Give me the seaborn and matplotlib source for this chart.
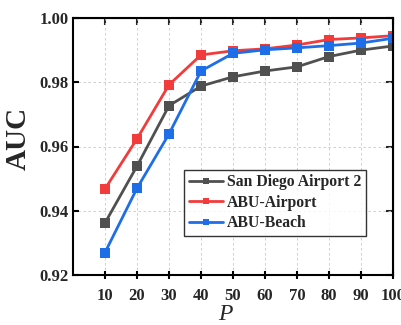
import matplotlib
matplotlib.use('Agg')
import matplotlib.pyplot as plt
import seaborn as sns
import pandas as pd

# data
P = [10, 20, 30, 40, 50, 60, 70, 80, 90, 100]
san_diego = [0.9362, 0.9539, 0.9727, 0.9788, 0.9817, 0.9835, 0.9848, 0.9880, 0.9900, 0.9913]
abu_airport = [0.9468, 0.9624, 0.9792, 0.9885, 0.9898, 0.9904, 0.9916, 0.9933, 0.9938, 0.9945]
abu_beach = [0.9270, 0.9470, 0.9639, 0.9835, 0.9890, 0.9901, 0.9907, 0.9914, 0.9922, 0.9937]
y_ticks = [0.92, 0.94, 0.96, 0.98, 1.00]

series = ["San Diego Airport 2", "ABU-Airport", "ABU-Beach"]
colors = ["#505050", "#F23C3C", "#1E6EE8"]

df = pd.concat([
    pd.DataFrame({"P": P, "AUC": vals, "dataset": name})
    for name, vals in zip(series, [san_diego, abu_airport, abu_beach])
])

sns.set_style("ticks")
plt.rcParams['font.family'] = ['Liberation Serif', 'DejaVu Serif']
plt.rcParams['font.weight'] = 'bold'

fig = plt.figure(figsize=(4.02, 3.25), dpi=100)
ax = fig.add_axes([73 / 402, 50 / 325, 320 / 402, 257 / 325])

sns.lineplot(data=df, x="P", y="AUC", hue="dataset", hue_order=series,
             palette=colors, marker='s', markersize=6.5, markeredgewidth=0,
             linewidth=2, ax=ax)

ax.set_xlim(0, 100)
ax.set_ylim(0.92, 1.00)
ax.set_xticks(P)
ax.set_yticks(y_ticks)
ax.set_yticklabels([f"{v:.2f}" for v in y_ticks])
ax.grid(True, linestyle=(0, (3, 3)), color='#c8c8c8', linewidth=0.6)

for s in ax.spines.values():
    s.set_linewidth(1.5)
    s.set_color('black')

ax.tick_params(axis='x', labelsize=12, width=1.5, length=6, direction='inout',
               pad=6, color='black')
ax.tick_params(axis='y', labelsize=12, width=1.5, length=4, direction='in',
               pad=3, color='black')
for lab in ax.get_xticklabels() + ax.get_yticklabels():
    lab.set_fontweight('bold')

# mirrored ticks on top/right pointing inward
top = ax.secondary_xaxis('top')
top.set_xticks(P)
top.tick_params(direction='in', length=5, width=1.5, labeltop=False)
right = ax.secondary_yaxis('right')
right.set_yticks(y_ticks)
right.tick_params(direction='in', length=5, width=1.5, labelright=False)

ax.set_xlabel("P", fontsize=17, fontstyle='italic', fontweight='normal')
ax.xaxis.set_label_coords(0.475, -0.113, transform=ax.transAxes)
ax.xaxis.label.set_va('top')
ax.set_ylabel("AUC", fontsize=21, fontweight='bold')
ax.yaxis.set_label_coords(-0.128, 0.53, transform=ax.transAxes)

leg = ax.legend(loc='lower right', bbox_to_anchor=(0.916, 0.152), borderaxespad=0,
                prop={'weight': 'bold', 'size': 11.3}, frameon=True, fancybox=False,
                handlelength=2.2, handletextpad=0.25, labelspacing=0.28,
                borderpad=0.3, markerscale=0.7)
leg.get_frame().set_edgecolor('black')
leg.get_frame().set_linewidth(1.0)

fig.savefig("out.png", dpi=100)
